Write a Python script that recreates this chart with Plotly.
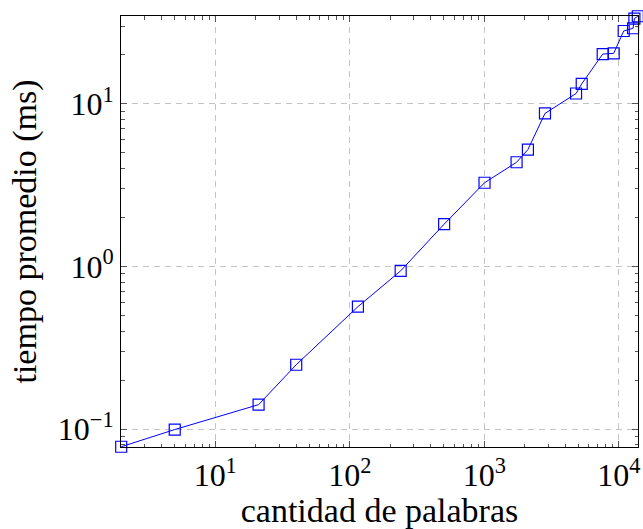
import numpy as np
import plotly.graph_objects as go

# cantidad de palabras
palabras = [2, 5, 21, 40, 115, 239, 503, 1004, 1738, 2110, 2825, 4810, 5300,
            7590, 9160, 10870, 12760, 13060, 13840]
# tiempo promedio (ms)
tiempo = [0.078, 0.0995, 0.1415, 0.249, 0.566, 0.94, 1.82, 3.27, 4.37, 5.23,
          8.72, 11.56, 13.25, 20.2, 20.4, 28.0, 29.1, 33.4, 34.5]

x_title = "cantidad de palabras"
y_title = "tiempo promedio (ms)"

x_tickvals = [10, 100, 1000, 10000]
x_ticktext = ["10<sup>1</sup>", "10<sup>2</sup>", "10<sup>3</sup>", "10<sup>4</sup>"]
y_tickvals = [0.1, 1, 10]
y_ticktext = ["10<sup>\u22121</sup>", "10<sup>0</sup>", "10<sup>1</sup>"]

FONT = "Liberation Serif"
EPS = 0.0015  # tiny pad so edge markers are not culled

fig = go.Figure()
fig.add_trace(go.Scatter(
    x=palabras, y=tiempo, mode="lines+markers",
    line=dict(color="#0000ff", width=1),
    marker=dict(symbol="square-open", size=11, color="#0000ff",
                line=dict(width=1.2, color="#0000ff")),
    cliponaxis=False, showlegend=False,
))

def minor_vals(lo, hi):
    vals = []
    for e in range(int(np.floor(np.log10(lo))) - 1, int(np.ceil(np.log10(hi))) + 1):
        for m in range(2, 10):
            v = m * 10.0 ** e
            if lo <= v <= hi:
                vals.append(v)
    return vals

common = dict(
    type="log", showline=True, linecolor="black", linewidth=1, mirror="ticks",
    ticks="inside", ticklen=6, tickcolor="#555555", tickwidth=1,
    showgrid=True, gridcolor="#c4c4c4", griddash="6px,5px", gridwidth=1,
    zeroline=False, tickmode="array", automargin=False,
    tickfont=dict(family=FONT, size=32, color="black"),
)

fig.update_xaxes(
    **common,
    tickvals=x_tickvals, ticktext=x_ticktext,
    range=[np.log10(min(palabras)) - EPS, np.log10(max(palabras)) + EPS],
    minor=dict(ticks="inside", ticklen=3.5, tickcolor="#555555",
               tickmode="array", tickvals=minor_vals(min(palabras), max(palabras)),
               showgrid=False),
    title=dict(text=x_title, font=dict(family=FONT, size=34, color="black"), standoff=4),
)
fig.update_yaxes(
    **common,
    tickvals=y_tickvals, ticktext=y_ticktext,
    range=[np.log10(min(tiempo)) - EPS, np.log10(max(tiempo)) + EPS],
    minor=dict(ticks="inside", ticklen=3.5, tickcolor="#555555",
               tickmode="array", tickvals=minor_vals(min(tiempo), max(tiempo)),
               showgrid=False),
    title=dict(text=y_title, font=dict(family=FONT, size=34, color="black"), standoff=10),
)

fig.update_layout(
    width=643, height=529,
    margin=dict(l=121, r=5, t=16, b=82, autoexpand=False),
    plot_bgcolor="white", paper_bgcolor="white",
)

fig.write_html("out.html", config={"displayModeBar": False},
               post_script="document.body.style.margin='0';document.body.style.padding='0';")
